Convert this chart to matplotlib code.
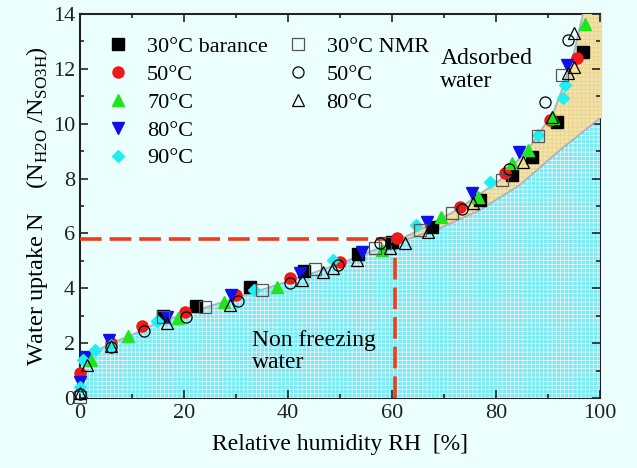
import matplotlib

matplotlib.use("Agg")
import matplotlib.pyplot as plt
from matplotlib.lines import Line2D
from matplotlib.ticker import MultipleLocator

# --- data --------------------------------------------------------------------

# water balance (filled markers)
BAL30_RH = [16, 22.4, 32.7, 43.1, 53.5, 59.9, 67.6, 77, 83, 86.9, 91.7, 96.8]
BAL30_N = [3.0, 3.35, 4.03, 4.64, 5.25, 5.7, 6.24, 7.22, 8.13, 8.8, 10.07, 12.62]
BAL50_RH = [0, 6, 12, 20.2, 30, 40.3, 50, 61, 73, 81.7, 90.4, 95.5]
BAL50_N = [0.9, 2.0, 2.63, 3.15, 3.75, 4.36, 4.97, 5.82, 6.97, 8.19, 10.13, 12.38]
BAL70_RH = [2.2, 9.3, 18.9, 27.6, 37.9, 58, 69.5, 76.6, 83, 86.2, 91, 97.1]
BAL70_N = [1.4, 2.25, 2.9, 3.5, 4.06, 5.4, 6.6, 7.34, 8.56, 9.04, 10.2, 13.63]
BAL80_RH = [0, 1, 5.6, 16.7, 29, 42.3, 54.2, 66.7, 75.3, 84.5, 93.6]
BAL80_N = [0.6, 1.5, 2.1, 2.97, 3.75, 4.55, 5.33, 6.43, 7.46, 8.98, 12.14]
BAL90_RH = [0, 0.6, 2.9, 6, 14.9, 33.5, 48.7, 64.7, 78.8, 88, 92.9, 93.3]
BAL90_N = [0.4, 1.4, 1.75, 1.95, 2.82, 3.94, 5.03, 6.3, 7.89, 9.6, 10.93, 11.4]

# NMR (open markers)
NMR30_RH = [0, 16, 24, 35, 45.2, 56.7, 58.7, 65.4, 71.5, 81.1, 88.1, 92.6]
NMR30_N = [0.05, 2.95, 3.3, 3.94, 4.69, 5.46, 5.64, 6.12, 6.73, 7.95, 9.55, 11.78]
NMR50_RH = [0, 6, 12.3, 20.3, 30.4, 40.3, 49.6, 57.7, 73.5, 82.4, 89.4, 93.9]
NMR50_N = [0.15, 1.85, 2.45, 2.94, 3.53, 4.18, 4.85, 5.64, 6.89, 8.34, 10.8, 13.05]
NMR80_RH = [0, 1.4, 6, 16.8, 28.8, 42.6, 46.7, 48.7, 53.2, 59.6, 62.5, 67, 75.6,
            85.1, 90.7, 93.9, 94.9, 94.9]
NMR80_N = [0.2, 1.2, 1.9, 2.75, 3.4, 4.3, 4.6, 4.73, 5.03, 5.46, 5.64, 6.06, 7.12,
           8.62, 10.26, 11.84, 12.08, 13.3]

# total uptake curve and the non-freezing / adsorbed boundary
FIT_RH = [0, 1, 3, 6, 10, 15, 20, 30, 40, 50, 60, 65, 72.4, 80.8, 86.5, 91, 93, 95, 96.7]
FIT_N = [0.3, 1.3, 1.7, 2.0, 2.3, 2.75, 3.05, 3.65, 4.25, 4.9, 5.65, 6.1, 6.85,
         7.95, 9.16, 10.4, 11.4, 12.6, 14.0]
NF_RH = [60, 61.5, 69.2, 76.9, 84.6, 92.3, 100]
NF_N = [5.65, 5.7, 6.19, 6.85, 7.77, 9.04, 10.2]

RH_KNEE, N_KNEE = 60.5, 5.8

# --- style --------------------------------------------------------------------

plt.rcParams["font.family"] = ["Liberation Serif", "DejaVu Serif"]
plt.rcParams["mathtext.fontset"] = "custom"
plt.rcParams["mathtext.rm"] = "Liberation Serif"
plt.rcParams["hatch.linewidth"] = 0.4

BG = "#ecffff"
CYAN = "#7ee9f2"
TAN = "#f3e2a8"
EDGE = "#a8b2c4"

fig = plt.figure(figsize=(6.37, 4.68), dpi=100, facecolor=BG)
ax = fig.add_axes([0.1256, 0.1496, 0.8164, 0.8205], facecolor=BG)

# non-freezing water area (under the curve up to the knee, then under the boundary)
i_knee = FIT_RH.index(60)
cyan_x = [0] + FIT_RH[: i_knee + 1] + NF_RH[1:] + [100]
cyan_y = [0] + FIT_N[: i_knee + 1] + NF_N[1:] + [0]
ax.fill(cyan_x, cyan_y, facecolor=CYAN, edgecolor="white", hatch="++++", lw=0, zorder=1)

# adsorbed water area between curve and boundary
tan_x = FIT_RH[i_knee:] + [100.4, 100.4] + NF_RH[::-1]
tan_y = FIT_N[i_knee:] + [14, NF_N[-1]] + NF_N[::-1]
ax.fill(tan_x, tan_y, facecolor=TAN, edgecolor="#e6cf86", hatch="++++", lw=0,
        zorder=1, clip_on=False)

ax.plot(FIT_RH, FIT_N, color=EDGE, lw=1.3, zorder=2)
ax.plot(NF_RH, NF_N, color=EDGE, lw=1.3, zorder=2)

# knee markers
red = "#ef3c1c"
ax.plot([0, RH_KNEE], [N_KNEE, N_KNEE], color=red, lw=2.6, dashes=(6, 2.2), zorder=3)
ax.plot([RH_KNEE, RH_KNEE], [0, N_KNEE], color=red, lw=2.6, dashes=(6, 2.2), zorder=3)

ms = 8
filled = [
    (BAL30_RH, BAL30_N, "s", "black", "30°C barance"),
    (BAL50_RH, BAL50_N, "o", "#f01818", "50°C"),
    (BAL70_RH, BAL70_N, "^", "#22e522", "70°C"),
    (BAL80_RH, BAL80_N, "v", "#1010e8", "80°C"),
    (BAL90_RH, BAL90_N, "D", "#22eef0", "90°C"),
]
for xs, ys, mk, col, _ in filled:
    ax.plot(xs, ys, ls="none", marker=mk, ms=ms if mk != "D" else 6.5, color=col,
            mec=col, zorder=4, clip_on=False)

opened = [
    (NMR30_RH, NMR30_N, "s", "#555555", "30°C NMR"),
    (NMR50_RH, NMR50_N, "o", "black", "50°C"),
    (NMR80_RH, NMR80_N, "^", "black", "80°C"),
]
for xs, ys, mk, col, _ in opened:
    ax.plot(xs, ys, ls="none", marker=mk, ms=ms, mfc="none", mec=col, mew=0.9,
            zorder=5, clip_on=False)

# --- axes -----------------------------------------------------------------------

ax.set_xlim(0, 100)
ax.set_ylim(0, 14)
ax.xaxis.set_major_locator(MultipleLocator(20))
ax.xaxis.set_minor_locator(MultipleLocator(10))
ax.yaxis.set_major_locator(MultipleLocator(2))
ax.yaxis.set_minor_locator(MultipleLocator(1))
ax.tick_params(which="both", direction="in", top=True, right=True, labelsize=16,
               width=1.2, colors="#222222")
ax.tick_params(which="major", length=6)
ax.tick_params(which="minor", length=3)
for sp in ax.spines.values():
    sp.set_linewidth(1.5)
    sp.set_color("#222222")
    sp.set_zorder(0.5)
ax.tick_params(axis="x", pad=4)

ax.set_xlabel("Relative humidity RH  [%]", fontsize=17, labelpad=8)
ax.set_ylabel("Water uptake N    (N$_{\\rm H2O}$ /N$_{\\rm SO3H}$)", fontsize=17.5,
              labelpad=2)

ax.text(69.3, 11.95, "Adsorbed\nwater", fontsize=17, ha="left", va="center",
        linespacing=1.15)
ax.text(33, 1.7, "Non freezing\nwater", fontsize=17, ha="left", va="center",
        linespacing=1.05)

# --- legends (two independent columns) ----------------------------------------

h1 = [Line2D([], [], ls="none", marker=mk, ms=ms if mk != "D" else 6.5, color=col,
             mec=col) for _, _, mk, col, _ in filled]
l1 = [lab for *_, lab in filled]
leg1 = ax.legend(h1, l1, loc="upper left", bbox_to_anchor=(0.035, 0.965), frameon=False,
                 fontsize=16, handlelength=1.0, handletextpad=0.8, labelspacing=0.33,
                 borderaxespad=0)
ax.add_artist(leg1)
h2 = [Line2D([], [], ls="none", marker=mk, ms=ms, mfc="none", mec=col, mew=0.9)
      for _, _, mk, col, _ in opened]
l2 = [lab for *_, lab in opened]
ax.legend(h2, l2, loc="upper left", bbox_to_anchor=(0.38, 0.965), frameon=False,
          fontsize=16, handlelength=1.0, handletextpad=0.8, labelspacing=0.33,
          borderaxespad=0)

fig.savefig("out.png", dpi=100, facecolor=BG)
